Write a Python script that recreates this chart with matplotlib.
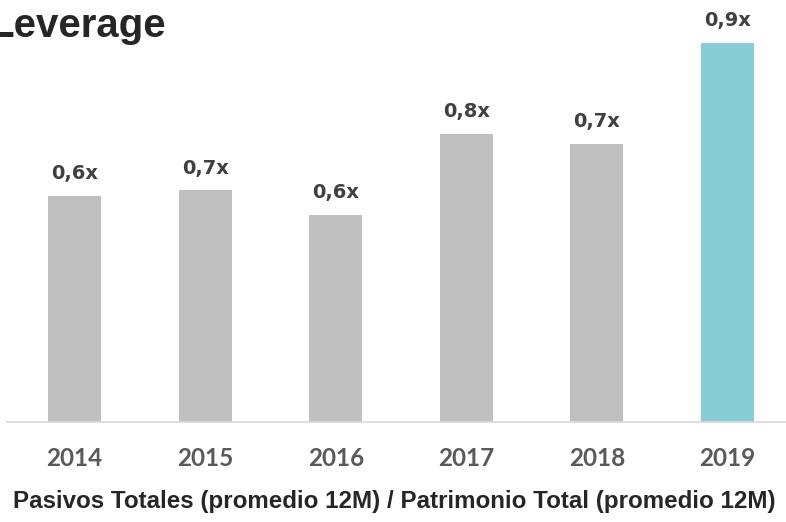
import matplotlib.pyplot as plt

years = ['2014', '2015', '2016', '2017', '2018', '2019']
leverage = [0.645, 0.655, 0.611, 0.758, 0.740, 0.923]
bar_labels = ['0,6x', '0,7x', '0,6x', '0,8x', '0,7x', '0,9x']
bar_colors = ['#bfbfbf'] * 5 + ['#87cdd3']

fig = plt.figure(figsize=(7.86, 5.22), dpi=100)
ax = fig.add_axes([7 / 786, 1 - 422 / 522, 1 - 7 / 786, 422 / 522])

x = range(len(years))
bars = ax.bar(x, leverage, width=0.405, color=bar_colors, zorder=2)
for b, lab in zip(bars, bar_labels):
    ax.annotate(lab, (b.get_x() + b.get_width() / 2, b.get_height()),
                xytext=(0, 12), textcoords='offset points', ha='center', va='baseline',
                fontsize=14, fontweight='bold', family='DejaVu Sans', color='#404040')

ax.set_ylim(0.234, 1.001)
ax.set_xlim(-0.517, 5.448)
ax.set_yticks([])
ax.set_xticks(list(x))
ax.set_xticklabels(years, fontsize=17.5, fontweight='bold', family='Lato', color='#595959')
ax.tick_params(axis='x', length=0, pad=18)
for s in ['top', 'right', 'left']:
    ax.spines[s].set_visible(False)
ax.spines['bottom'].set_color('#d9d9d9')
ax.spines['bottom'].set_linewidth(1.2)

fig.text(-11 / 786, 1 - 37 / 522, 'Leverage', fontsize=29, fontweight='bold',
         family='Liberation Sans', color='#262626', ha='left', va='baseline')
fig.text(394 / 786, 1 - 508 / 522,
         'Pasivos Totales (promedio 12M) / Patrimonio Total (promedio 12M)',
         fontsize=17.4, fontweight='bold', family='Liberation Sans', color='#262626',
         ha='center', va='baseline')

fig.savefig('out.png', dpi=100)
